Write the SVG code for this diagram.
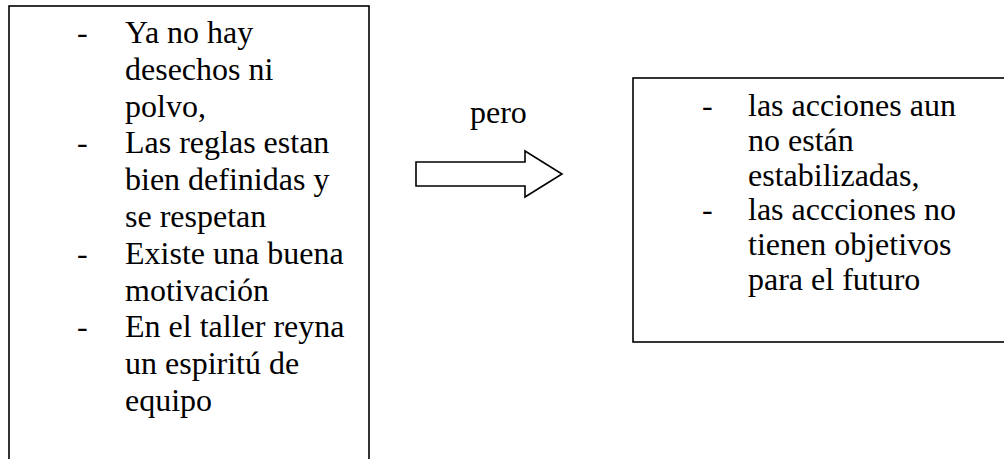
<svg xmlns="http://www.w3.org/2000/svg" width="1004" height="459" viewBox="0 0 1004 459">
<style>
.box{fill:#fff;stroke:#000;stroke-width:1.6}
.t{font-family:"Liberation Serif","Times New Roman",serif;font-size:32px;fill:#000}
</style>
<rect width="1004" height="459" fill="#fff"/>
<g id="left-box">
<rect class="box" x="9" y="6" width="360" height="470"/>
<text class="t" x="77" y="43">-</text>
<text class="t" x="125" y="43">Ya no hay</text>
<text class="t" x="125" y="79.8">desechos ni</text>
<text class="t" x="125" y="116.6">polvo,</text>
<text class="t" x="77" y="153.4">-</text>
<text class="t" x="125" y="153.4">Las reglas estan</text>
<text class="t" x="125" y="190.2">bien definidas y</text>
<text class="t" x="125" y="227">se respetan</text>
<text class="t" x="77" y="263.8">-</text>
<text class="t" x="125" y="263.8">Existe una buena</text>
<text class="t" x="125" y="300.6">motivación</text>
<text class="t" x="77" y="337.4">-</text>
<text class="t" x="125" y="337.4">En el taller reyna</text>
<text class="t" x="125" y="374.2">un espiritú de</text>
<text class="t" x="125" y="411">equipo</text>
</g>
<g id="connectors">
<text class="t" x="470" y="123">pero</text>
<path class="box" d="M416,162 H525 V151 L562,174 L525,197 V186 H416 Z"/>
</g>
<g id="right-box">
<rect class="box" x="633" y="78" width="400" height="264"/>
<text class="t" x="702" y="116">-</text>
<text class="t" x="748" y="116">las acciones aun</text>
<text class="t" x="748" y="150.8">no están</text>
<text class="t" x="748" y="185.6">estabilizadas,</text>
<text class="t" x="702" y="220.4">-</text>
<text class="t" x="748" y="220.4">las accciones no</text>
<text class="t" x="748" y="255.2">tienen objetivos</text>
<text class="t" x="748" y="290">para el futuro</text>
</g>
</svg>
